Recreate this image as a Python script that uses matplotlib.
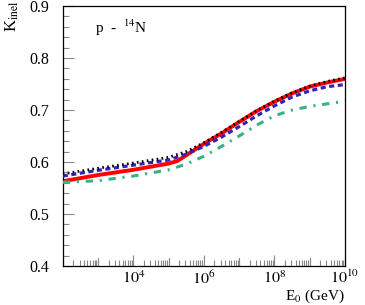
"""
K_inel vs E0 for p-14N
"""
import numpy as np
import matplotlib
matplotlib.use('Agg')
import matplotlib.pyplot as plt
from matplotlib.ticker import LogLocator, FixedLocator, MultipleLocator, NullFormatter

plt.rcParams['font.family'] = ['Liberation Serif', 'DejaVu Serif']
plt.rcParams['mathtext.fontset'] = 'stix'

# 数据 (log10 E0, K_inel)
log_e = [2, 3, 4, 5, 5.5, 6, 6.5, 7, 7.5, 8, 8.5, 9, 9.5, 10]
log_e_red = [2, 3, 4, 5, 5.25, 5.5, 6, 6.5, 7, 7.5, 8, 8.5, 9, 9.5, 10]
k_red = [0.563, 0.575, 0.585, 0.597, 0.602, 0.613, 0.635, 0.655, 0.677, 0.698,
         0.716, 0.732, 0.745, 0.753, 0.760]
k_black = [0.577, 0.588, 0.598, 0.609, 0.620, 0.637, 0.657, 0.678, 0.699,
           0.717, 0.733, 0.746, 0.755, 0.762]
k_blue = [0.573, 0.584, 0.594, 0.604, 0.615, 0.630, 0.648, 0.668, 0.689,
          0.708, 0.725, 0.737, 0.745, 0.749]
k_green = [0.561, 0.564, 0.573, 0.585, 0.596, 0.611, 0.630, 0.650, 0.671,
           0.689, 0.700, 0.707, 0.712, 0.717]

x_labels = [1e4, 1e6, 1e8, 1e10]

fig = plt.figure(figsize=(3.65, 3.05), dpi=100)
ax = fig.add_axes([0.172, 0.128, 0.773, 0.852])

e = np.power(10.0, log_e)
e_red = np.power(10.0, log_e_red)

ax.plot(e_red, k_red, color='#ff0000', lw=2.8, solid_capstyle='butt', zorder=2)
ax.plot(e, k_green, color='#35b387', lw=2.2, linestyle=(0, (2.4, 2.2, 0.7, 2.2)), zorder=3)
ax.plot(e, k_blue, color='#3322bb', lw=2.3, linestyle=(0, (1.6, 1.1)), zorder=4)
ax.plot(e, k_black, color='black', lw=2.0, linestyle=(0, (0.6, 1.2)), zorder=5)

ax.set_xscale('log')
ax.set_xlim(1e2, 1e10)
ax.set_ylim(0.4, 0.9)

# x轴刻度
ax.xaxis.set_major_locator(FixedLocator(x_labels))
ax.xaxis.set_minor_locator(LogLocator(base=10, subs=np.arange(1, 10), numticks=50))
ax.xaxis.set_minor_formatter(NullFormatter())
ax.set_xticklabels([r'$10^{4}$', r'$10^{6}$', r'$10^{8}$', r'$10^{10}$'])

ax.yaxis.set_major_locator(MultipleLocator(0.1))
ax.yaxis.set_minor_locator(MultipleLocator(0.02))
ax.yaxis.set_major_formatter(plt.FuncFormatter(lambda v, p: f'{v:.1f}'))

ax.tick_params(axis='both', which='both', direction='in', color='#888888',
               top=False, right=False, labelsize=11.5)
ax.tick_params(axis='y', which='major', length=8, width=0.8, pad=10)
ax.tick_params(axis='y', which='minor', length=4, width=0.8)
ax.tick_params(axis='x', which='major', length=8, width=0.8, pad=3)
ax.tick_params(axis='x', which='minor', length=4, width=0.8)

# 每个十年的长刻度
for d in [1e3, 1e5, 1e7, 1e9]:
    ax.axvline(d, ymin=0, ymax=8 / 260, color='#888888', lw=0.8)

for s in ax.spines.values():
    s.set_linewidth(0.9)

ax.text(0.114, 0.915, r'p  -  $^{14}$N', transform=ax.transAxes,
        fontsize=11, va='center', ha='left')

fig.text(0.035, 0.997, r'K$_{\rm inel}$', rotation=90, ha='center', va='top', fontsize=12)
fig.text(0.945, 0.0, r'E$_0$ (GeV)', ha='right', va='bottom', fontsize=11)

fig.savefig('out.png', dpi=100)
